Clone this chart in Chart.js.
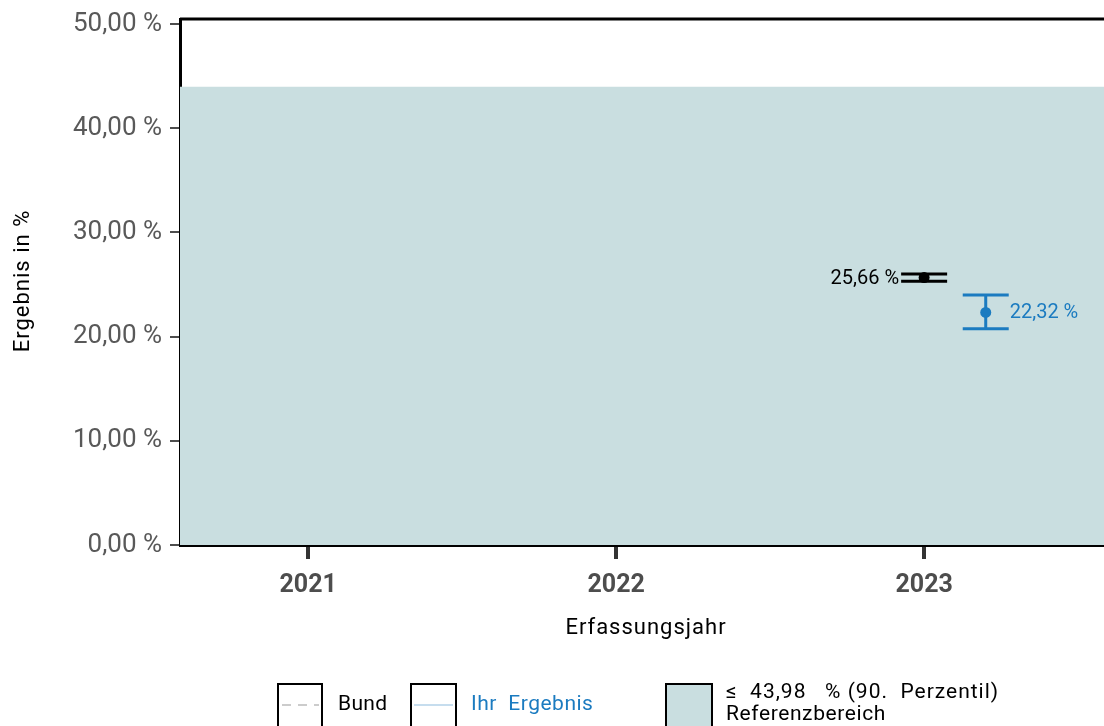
<!DOCTYPE html>
<html>
<head>
<meta charset="utf-8">
<script src="https://cdn.jsdelivr.net/npm/chart.js@4.4.1/dist/chart.umd.min.js"></script>
<style>
  html, body { margin: 0; padding: 0; background: #fff; }
  #wrap { width: 1104px; height: 726px; position: relative; }
</style>
</head>
<body>
<div id="wrap"><canvas id="chart" width="1104" height="726"></canvas></div>
<script>
// Data
const years = [2021, 2022, 2023];
const yTicks = [0, 10, 20, 30, 40, 50];
const refLimit = 43.98;

const bundYear = [2023];
const bundValue = [25.66];
const bundLow = [25.3];
const bundHigh = [26.0];

const ihrYear = [2023.2];
const ihrValue = [22.32];
const ihrLow = [20.75];
const ihrHigh = [24.0];

const X_MIN = 2020.584, X_MAX = 2023.584;
const BLUE = '#1b7bc0';
const BAND = '#c9dee0';
const FONT = 'Roboto';

function fmt(v) {
  return v.toFixed(2).replace('.', ',') + ' %';
}

// text with a bit of tracking, the reference font runs wider than Roboto
function spaced(ctx, text, x, y, px, spacing) {
  ctx.font = px + 'px ' + FONT;
  ctx.letterSpacing = spacing + 'px';
  ctx.fillText(text, x, y);
  ctx.letterSpacing = '0px';
}

// error bars, value labels, titles, top border
const extras = {
  id: 'extras',
  afterDatasetsDraw(chart) {
    const { ctx, scales: { x, y }, chartArea } = chart;
    ctx.save();
    const drawBar = (xs, lo, hi, color, capHalf, width) => {
      ctx.strokeStyle = color;
      ctx.lineWidth = width;
      for (let i = 0; i < xs.length; i++) {
        const px = x.getPixelForValue(xs[i]);
        const pl = y.getPixelForValue(lo[i]);
        const ph = y.getPixelForValue(hi[i]);
        ctx.beginPath();
        ctx.moveTo(px, pl); ctx.lineTo(px, ph);
        ctx.moveTo(px - capHalf, pl); ctx.lineTo(px + capHalf, pl);
        ctx.moveTo(px - capHalf, ph); ctx.lineTo(px + capHalf, ph);
        ctx.stroke();
      }
    };
    drawBar(bundYear, bundLow, bundHigh, '#000', 23, 3);
    drawBar(ihrYear, ihrLow, ihrHigh, BLUE, 23, 3);

    const dot = (xs, vs, color) => {
      ctx.fillStyle = color;
      for (let i = 0; i < xs.length; i++) {
        ctx.beginPath();
        ctx.arc(x.getPixelForValue(xs[i]), y.getPixelForValue(vs[i]), 5.5, 0, Math.PI * 2);
        ctx.fill();
      }
    };
    dot(bundYear, bundValue, '#000');
    dot(ihrYear, ihrValue, BLUE);

    ctx.textBaseline = 'middle';
    ctx.fillStyle = '#000';
    ctx.textAlign = 'right';
    bundYear.forEach((yr, i) => {
      spaced(ctx, fmt(bundValue[i]), x.getPixelForValue(yr) - 25, y.getPixelForValue(bundValue[i]) + 1, 20, 0);
    });
    ctx.fillStyle = BLUE;
    ctx.textAlign = 'left';
    ihrYear.forEach((yr, i) => {
      spaced(ctx, fmt(ihrValue[i]), x.getPixelForValue(yr) + 24, y.getPixelForValue(ihrValue[i]) + 1, 20, 0);
    });

    // top frame line
    ctx.strokeStyle = '#000';
    ctx.lineWidth = 3;
    ctx.beginPath();
    ctx.moveTo(chartArea.left, chartArea.top);
    ctx.lineTo(chartArea.right, chartArea.top);
    ctx.stroke();
    ctx.restore();
  },
  afterDraw(chart) {
    const { ctx } = chart;
    ctx.save();
    ctx.textBaseline = 'middle';
    ctx.fillStyle = '#000';

    // axis titles
    ctx.textAlign = 'center';
    spaced(ctx, 'Erfassungsjahr', 646, 628, 22, 1.0);
    ctx.save();
    ctx.translate(23, 281);
    ctx.rotate(-Math.PI / 2);
    spaced(ctx, 'Ergebnis in %', 0, 0, 22, 1.0);
    ctx.restore();

    // legend along the bottom
    ctx.textAlign = 'left';
    ctx.lineWidth = 2;
    ctx.strokeStyle = '#000';
    ctx.strokeRect(278, 684, 44, 60);
    ctx.setLineDash([9, 7]);
    ctx.strokeStyle = '#cccccc';
    ctx.beginPath(); ctx.moveTo(282, 705); ctx.lineTo(319, 705); ctx.stroke();
    ctx.setLineDash([]);
    ctx.fillStyle = '#000';
    spaced(ctx, 'Bund', 338, 705, 21, 0.3);

    ctx.strokeStyle = '#000';
    ctx.strokeRect(411, 684, 45, 60);
    ctx.strokeStyle = '#c6ddee';
    ctx.beginPath(); ctx.moveTo(414, 705); ctx.lineTo(453, 705); ctx.stroke();
    ctx.fillStyle = BLUE;
    spaced(ctx, 'Ihr  Ergebnis', 471, 705, 21, 0.5);

    ctx.fillStyle = BAND;
    ctx.fillRect(666, 684, 46, 60);
    ctx.strokeStyle = '#000';
    ctx.strokeRect(666, 684, 46, 60);
    ctx.fillStyle = '#000';
    spaced(ctx, '\u2264  43,98   % (90.  Perzentil)', 726, 693, 21, 1.0);
    spaced(ctx, 'Referenzbereich', 726, 715, 21, 0.6);
    ctx.restore();
  }
};

const cfg = {
  data: {
    datasets: [
      {
        type: 'line',
        label: 'Referenzbereich',
        data: [{ x: X_MIN, y: refLimit }, { x: X_MAX, y: refLimit }],
        backgroundColor: BAND,
        borderWidth: 0,
        pointRadius: 0,
        fill: 'start',
        order: 3
      },
      {
        type: 'scatter',
        label: 'Bund',
        data: bundYear.map((yr, i) => ({ x: yr, y: bundValue[i] })),
        backgroundColor: '#000',
        pointRadius: 0
      },
      {
        type: 'scatter',
        label: 'Ihr Ergebnis',
        data: ihrYear.map((yr, i) => ({ x: yr, y: ihrValue[i] })),
        backgroundColor: BLUE,
        pointRadius: 0
      }
    ]
  },
  options: {
    responsive: false,
    animation: false,
    layout: { padding: { top: 19, right: 0, left: 0, bottom: 0 } },
    plugins: { legend: { display: false }, tooltip: { enabled: false } },
    scales: {
      x: {
        type: 'linear',
        min: X_MIN,
        max: X_MAX,
        afterBuildTicks: s => { s.ticks = years.map(v => ({ value: v })); },
        afterFit: s => { s.height = 181; s.paddingLeft = 0; s.paddingRight = 0; },
        ticks: {
          callback: v => String(v),
          color: '#4d4d4d',
          font: { family: FONT, size: 25, weight: 'bold' },
          padding: 12,
          maxRotation: 0
        },
        grid: { drawOnChartArea: false, drawTicks: true, tickLength: 14, color: '#333', lineWidth: 4 },
        border: { color: '#000', width: 3 }
      },
      y: {
        min: 0,
        max: 50.48,
        afterBuildTicks: s => { s.ticks = yTicks.map(v => ({ value: v })); },
        afterFit: s => { s.width = 180; s.paddingTop = 0; s.paddingBottom = 0; },
        ticks: {
          callback: v => fmt(v),
          color: '#595959',
          font: { family: FONT, size: 26 },
          padding: 8
        },
        grid: { drawOnChartArea: false, drawTicks: true, tickLength: 10, color: '#4d4d4d', lineWidth: 2 },
        border: { color: '#000', width: 3 }
      }
    }
  },
  plugins: [extras]
};

new Chart(document.getElementById('chart').getContext('2d'), cfg);
</script>
</body>
</html>
